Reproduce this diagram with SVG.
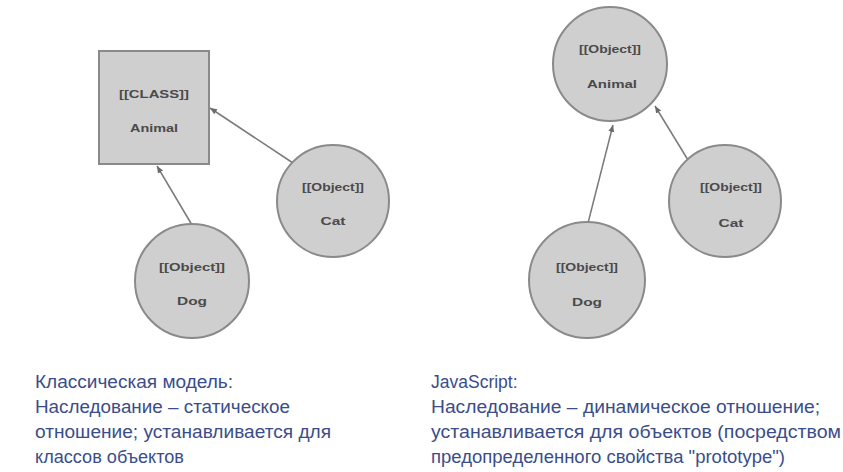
<svg xmlns="http://www.w3.org/2000/svg" width="843" height="472" viewBox="0 0 843 472">
<style>
.node{fill:#cfcfcf;stroke:#8a8a8a;stroke-width:2}
.nt{font-family:"Liberation Sans",Arial,sans-serif;font-size:11.5px;font-weight:bold;fill:#4a4a4a;text-anchor:middle}
.edge{stroke:#7a7a7a;stroke-width:1.5;fill:none;marker-end:url(#ah)}
.cap{font-family:"Liberation Sans",Arial,sans-serif;font-size:17.5px;fill:#3a4d8a}
</style>
<defs>
<marker id="ah" markerWidth="8" markerHeight="8" refX="7" refY="4" orient="auto" markerUnits="userSpaceOnUse">
<path d="M0,1 L7,4 L0,7 z" fill="#6a6a6a"/>
</marker>
</defs>
<rect width="843" height="472" fill="#ffffff"/>
<g id="connectors">
<line class="edge" x1="293" y1="163" x2="210" y2="108"/>
<line class="edge" x1="192" y1="225" x2="157" y2="166"/>
<line class="edge" x1="588" y1="223" x2="613" y2="125"/>
<line class="edge" x1="688" y1="160" x2="655" y2="106"/>
</g>
<g id="class-animal">
<rect class="node" x="99" y="51" width="110" height="113"/>
<text class="nt" x="154" y="98" textLength="70" lengthAdjust="spacingAndGlyphs">[[CLASS]]</text>
<text class="nt" x="154" y="132" textLength="48" lengthAdjust="spacingAndGlyphs">Animal</text>
</g>
<g id="left-cat">
<circle class="node" cx="333" cy="201" r="56"/>
<text class="nt" x="333" y="191" textLength="62" lengthAdjust="spacingAndGlyphs">[[Object]]</text>
<text class="nt" x="333" y="225" textLength="25" lengthAdjust="spacingAndGlyphs">Cat</text>
</g>
<g id="left-dog">
<circle class="node" cx="192" cy="281" r="57"/>
<text class="nt" x="192" y="271" textLength="66" lengthAdjust="spacingAndGlyphs">[[Object]]</text>
<text class="nt" x="192" y="305" textLength="30" lengthAdjust="spacingAndGlyphs">Dog</text>
</g>
<g id="obj-animal">
<circle class="node" cx="610" cy="64" r="57"/>
<text class="nt" x="610" y="53" textLength="62" lengthAdjust="spacingAndGlyphs">[[Object]]</text>
<text class="nt" x="612" y="88" textLength="50" lengthAdjust="spacingAndGlyphs">Animal</text>
</g>
<g id="right-cat">
<circle class="node" cx="725" cy="201" r="56"/>
<text class="nt" x="731" y="191" textLength="62" lengthAdjust="spacingAndGlyphs">[[Object]]</text>
<text class="nt" x="731" y="227" textLength="25" lengthAdjust="spacingAndGlyphs">Cat</text>
</g>
<g id="right-dog">
<circle class="node" cx="587" cy="280" r="58"/>
<text class="nt" x="587" y="271" textLength="62" lengthAdjust="spacingAndGlyphs">[[Object]]</text>
<text class="nt" x="587" y="306" textLength="30" lengthAdjust="spacingAndGlyphs">Dog</text>
</g>
<g id="caption-left" class="cap">
<text x="35" y="388" textLength="198" lengthAdjust="spacingAndGlyphs">Классическая модель:</text>
<text x="35" y="413" textLength="255" lengthAdjust="spacingAndGlyphs">Наследование – статическое</text>
<text x="35" y="438" textLength="296" lengthAdjust="spacingAndGlyphs">отношение; устанавливается для</text>
<text x="35" y="463" textLength="149" lengthAdjust="spacingAndGlyphs">классов объектов</text>
</g>
<g id="caption-right" class="cap">
<text x="431" y="388">JavaScript:</text>
<text x="431" y="413" textLength="389" lengthAdjust="spacingAndGlyphs">Наследование – динамическое отношение;</text>
<text x="431" y="438" textLength="410" lengthAdjust="spacingAndGlyphs">устанавливается для объектов (посредством</text>
<text x="431" y="463" textLength="354" lengthAdjust="spacingAndGlyphs">предопределенного свойства "prototype")</text>
</g>
</svg>
